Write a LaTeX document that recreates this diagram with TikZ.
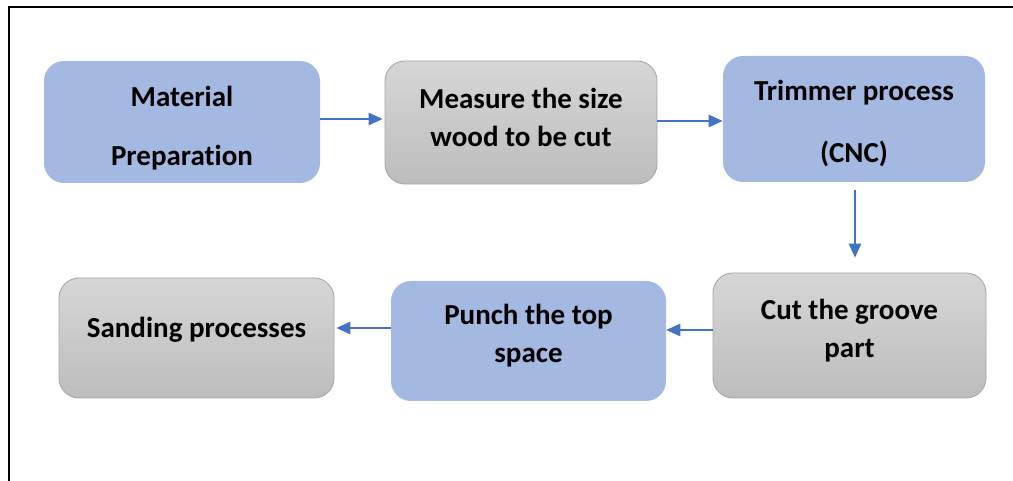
\documentclass[tikz,border=0pt]{standalone}
\usepackage{fontspec}
\setmainfont[Ligatures=NoCommon]{Carlito}
\usetikzlibrary{arrows.meta, calc, positioning}
\definecolor{boxblue}{HTML}{A3B9E1}
\definecolor{flowblue}{HTML}{4472C4}
\tikzset{
  bluebox/.style = {rounded corners=0.4cm, fill=boxblue, inner sep=0pt},
  greybox/.style = {rounded corners=0.4cm, draw=black!35, line width=0.5pt, top color=black!16, bottom color=black!26, inner sep=0pt},
  boxtext/.style = {align=center, font=\fontsize{16.5}{21.6}\selectfont\bfseries, inner sep=0pt},
  flow/.style = {draw=flowblue, line width=0.7pt, -{Triangle[length=0.28cm, width=0.25cm]}}
}

\begin{document}
\begin{tikzpicture}
\useasboundingbox (0,0) rectangle (20.26,-9.62);
\draw [line width=1.4pt] (20.26,-0.14) -- (0.18,-0.14) -- (0.18,-9.62);

\node [bluebox, minimum width=5.52cm, minimum height=2.44cm] (mat) at (3.64,-2.44) {};
\node [boxtext] (matt) at ($(mat)+(0,-0.12)$) {Material\\[12pt]Preparation};
\node [greybox, minimum width=5.44cm, minimum height=2.46cm] (meas) at (10.42,-2.45) {};
\node [boxtext] (meast) at ($(meas)+(0,0.1)$) {Measure the size\\wood to be cut};
\node [bluebox, minimum width=5.24cm, minimum height=2.52cm] (trim) at (17.08,-2.38) {};
\node [boxtext] (trimt) at ($(trim)+(0,-0.1)$) {Trimmer process\\[13.7pt](CNC)};
\node [greybox, minimum width=5.46cm, minimum height=2.5cm] (cut) at (16.99,-6.71) {};
\node [boxtext] (cutt) at ($(cut)+(0,0.09)$) {Cut the groove\\part};
\node [bluebox, minimum width=5.5cm, minimum height=2.4cm] (punch) at (10.57,-6.82) {};
\node [boxtext] (puncht) at ($(punch)+(0,0.1)$) {Punch the top\\space};
\node [greybox, minimum width=5.5cm, minimum height=2.4cm] (sand) at (3.93,-6.76) {};
\node [boxtext] (sandt) at ($(sand)+(0,0.17)$) {Sanding processes};

\draw [flow, shorten >=0.04cm] ([yshift=0.06cm]mat.east) -- ([yshift=0.06cm]mat.east -| meas.west);
\draw [flow] ([yshift=0.03cm]meas.east) -- ([yshift=0.03cm]meas.east -| trim.west);
\draw [flow, shorten <=0.16cm, shorten >=0.3cm] ([xshift=0.02cm]trim.south) -- ([xshift=0.02cm]trim.south |- cut.north);
\draw [flow] ([yshift=0.11cm]cut.west) -- ([yshift=0.11cm]cut.west -| punch.east);
\draw [flow, shorten >=0.04cm] ([yshift=0.26cm]punch.west) -- ([yshift=0.26cm]punch.west -| sand.east);
\end{tikzpicture}
\end{document}
